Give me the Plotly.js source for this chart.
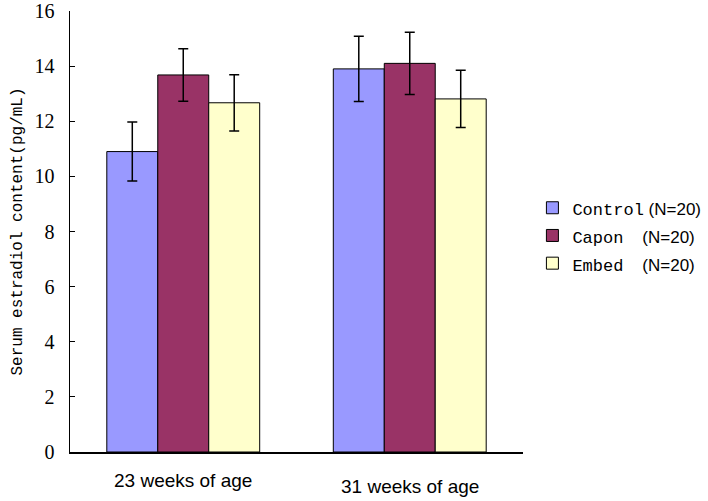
<!DOCTYPE html>
<html>
<head>
<meta charset="utf-8">
<script src="https://cdn.plot.ly/plotly-3.0.1.min.js"></script>
<style>body{margin:0;padding:0;background:#fff;} #chart{width:708px;height:501px;}</style>
</head>
<body>
<div id="chart"></div>
<script>
const categories = ["23 weeks of age", "31 weeks of age"];
const seriesNames = ["Control", "Capon", "Embed"];
const seriesN = ["(N=20)", "(N=20)", "(N=20)"];
const controlValues = [10.9, 13.9];
const controlErrors = [1.07, 1.18];
const caponValues = [13.68, 14.1];
const caponErrors = [0.95, 1.13];
const embedValues = [12.67, 12.81];
const embedErrors = [1.02, 1.04];
const yTickVals = [0, 2, 4, 6, 8, 10, 12, 14, 16];

const colors = ["#9999FF", "#993366", "#FFFFCC"];
const values = [controlValues, caponValues, embedValues];
const errors = [controlErrors, caponErrors, embedErrors];
const pads = ["\u00A0", "\u00A0\u00A0\u00A0\u00A0", "\u00A0\u00A0\u00A0\u00A0"];

const xIdx = categories.map((c, i) => i);
const traces = seriesNames.map((name, k) => ({
  type: "bar",
  x: xIdx,
  y: values[k],
  name: '<span style="font-family:\'Liberation Mono\', monospace;font-size:17px">' + name + '</span>' +
        '<span style="font-size:17px">' + pads[k] + seriesN[k] + '</span>',
  marker: { color: colors[k], line: { color: "#000000", width: 1 } },
  error_y: { type: "data", array: errors[k], visible: true, color: "#000000", thickness: 1.5, width: 5 },
  hoverinfo: "none"
}));

const labelShift = [-16, -22];
const annotations = categories.map((c, i) => ({
  text: c, x: i, xref: "x", y: 0, yref: "paper", yanchor: "top",
  yshift: labelShift[i], showarrow: false,
  font: { family: "Liberation Sans, Arial, sans-serif", size: 19, color: "#000" }
}));

const layout = {
  width: 708, height: 501,
  margin: { l: 70, r: 185, t: 11, b: 49, autoexpand: false },
  paper_bgcolor: "#ffffff", plot_bgcolor: "#ffffff",
  barmode: "group", bargap: 0.325, bargroupgap: 0,
  showlegend: true,
  legend: {
    xref: "container", x: 0.752, xanchor: "left", y: 0.49, yanchor: "middle",
    font: { family: "Liberation Sans, Arial, sans-serif", size: 19, color: "#000" },
    tracegroupgap: 0, itemwidth: 30, bgcolor: "rgba(0,0,0,0)"
  },
  xaxis: {
    range: [-0.5, 1.5], tickvals: xIdx, showticklabels: false, ticks: "",
    showline: true, linecolor: "#000", linewidth: 1.5, showgrid: false, zeroline: false, fixedrange: true
  },
  yaxis: {
    range: [0, 16], tickvals: yTickVals, ticks: "inside", ticklen: 5, tickcolor: "#000",
    showline: true, linecolor: "#000", linewidth: 1.5, showgrid: false, zeroline: false,
    tickfont: { family: "Liberation Serif, serif", size: 20, color: "#000" },
    ticklabelstandoff: 10,
    title: { text: "Serum estradiol content(pg/mL)\u00A0\u00A0", standoff: 8,
      font: { family: "Liberation Mono, monospace", size: 16, color: "#000" } },
    fixedrange: true
  },
  annotations: annotations
};

Plotly.newPlot("chart", traces, layout, { displayModeBar: false, staticPlot: true });
</script>
</body>
</html>
